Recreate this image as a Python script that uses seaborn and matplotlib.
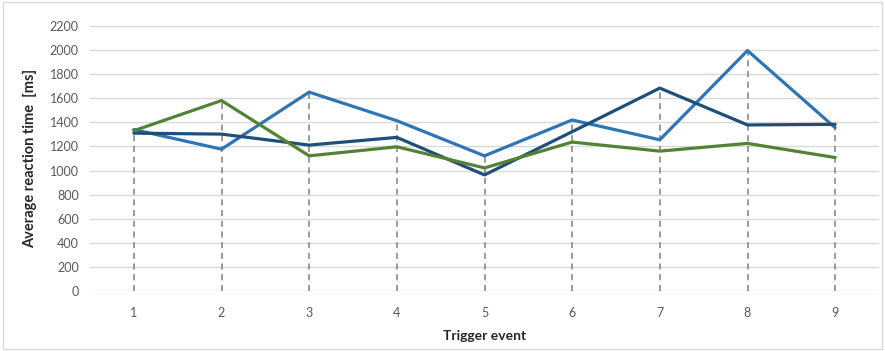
import pandas as pd
import matplotlib
matplotlib.use("Agg")
import matplotlib.pyplot as plt
from matplotlib.patches import Rectangle
import seaborn as sb

# === DATA ===
eventos = [1, 2, 3, 4, 5, 6, 7, 8, 9]
serie_clara = [1340, 1177, 1650, 1413, 1122, 1419, 1255, 1994, 1355]
serie_escura = [1310, 1302, 1211, 1275, 964, 1322, 1683, 1378, 1383]
serie_verde = [1330, 1580, 1122, 1197, 1022, 1236, 1161, 1225, 1108]
nomes = ['Series 1', 'Series 2', 'Series 3']
y_ticks = list(range(0, 2201, 200))

cores = {'Series 1': '#2E75B6', 'Series 2': '#1F4E79', 'Series 3': '#548235'}

data = pd.DataFrame({
    'Evento': eventos * 3,
    'Tempo': serie_clara + serie_escura + serie_verde,
    'Serie': [n for n in nomes for _ in eventos],
})

sb.set_theme(style='white')
plt.rcParams['font.family'] = ['Lato', 'DejaVu Sans']

fig = plt.figure(figsize=(8.85, 3.51), dpi=100)
ax = fig.add_axes([90 / 885, 1 - 291.3 / 351, 789 / 885, (291.3 - 25.7) / 351])

# grid
for v in y_ticks:
    ax.axhline(v, color='#D9D9D9', lw=1, zorder=0)

# drop lines (from the highest point of each event)
maximos = data.groupby('Evento')['Tempo'].max()
ax.vlines(maximos.index, 0, maximos.values, colors='#808080', linestyles=(0, (4, 3)), lw=1.1, zorder=1)

sb.lineplot(data=data, x='Evento', y='Tempo', hue='Serie', palette=cores,
            linewidth=2.3, legend=False, ax=ax, zorder=3)

ax.set_xlim(0.5, 9.5)
ax.set_ylim(0, 2200)
ax.set_xticks(eventos)
ax.set_yticks(y_ticks)
ax.tick_params(axis='y', length=0, labelsize=9, colors='#595959', pad=8)
ax.tick_params(axis='x', length=0, labelsize=9, colors='#595959', pad=11)
for s in ax.spines.values():
    s.set_visible(False)

ax.set_xlabel('Trigger event', fontsize=10, fontweight='bold', color='#262626', labelpad=8)
ax.set_ylabel('Average reaction time  [ms]', fontsize=10.5, fontweight='bold', color='#262626', labelpad=9)

fig.add_artist(Rectangle((0.003, 0.005), 0.994, 0.99, transform=fig.transFigure,
                         fill=False, edgecolor='#D9D9D9', lw=1))

fig.savefig('out.png', dpi=100)
